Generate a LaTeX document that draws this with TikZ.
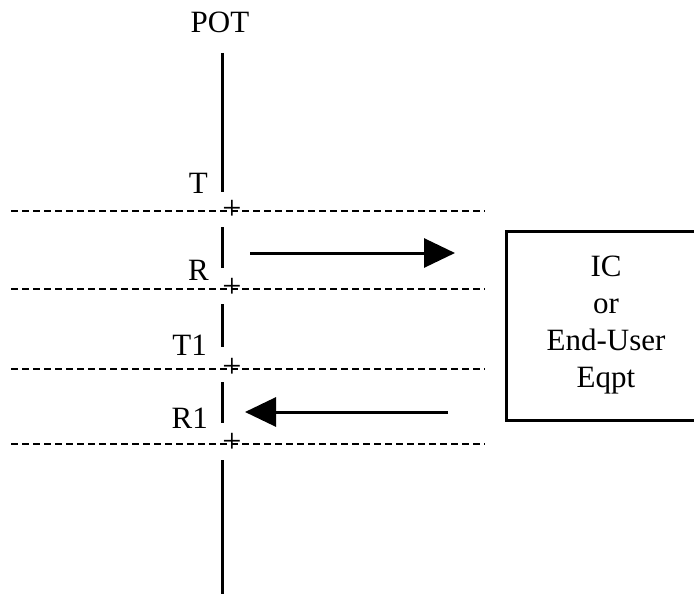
\documentclass[tikz,border=0pt]{standalone}
\usepackage{fontspec}
\setmainfont{Liberation Serif}
\usetikzlibrary{arrows.meta,positioning}
\tikzstyle{pointname}=[anchor=base east,inner sep=0pt]
\tikzstyle{wire}=[line width=3pt]
\tikzstyle{boundary}=[line width=1.5pt,dash pattern=on 7pt off 4pt]
\tikzstyle{plusmark}=[inner sep=0pt,font=\fontsize{34}{37}\selectfont]
\tikzstyle{flow}=[line width=3pt,-{Triangle[length=31pt,width=29pt]}]
\tikzstyle{equipment}=[draw,line width=3pt,minimum width=200pt,minimum height=189pt,align=center]
\tikzset{y=-1pt}
\tikzset{x=1pt}

\begin{document}
\begin{tikzpicture}[font=\fontsize{31}{37}\selectfont]
  \useasboundingbox (0,0) rectangle (694,594);
  \draw (220,33) node[anchor=base,inner sep=0pt] (POT) {POT};

  %% the line, cut at each point
  \coordinate (S1a) at (222,53);
  \coordinate (S1b) at (222,192);
  \coordinate (S2a) at (222,227);
  \coordinate (S2b) at (222,268);
  \coordinate (S3a) at (222,304);
  \coordinate (S3b) at (222,347);
  \coordinate (S4a) at (222,382);
  \coordinate (S4b) at (222,423);
  \coordinate (S5a) at (222,460);
  \coordinate (S5b) at (222,594);
  \draw[wire] (S1a) -- (S1b);
  \draw[wire] (S2a) -- (S2b);
  \draw[wire] (S3a) -- (S3b);
  \draw[wire] (S4a) -- (S4b);
  \draw[wire] (S5a) -- (S5b);

  %% boundaries
  \coordinate (D1l) at (11,211);
  \coordinate (D1r) at (485,211);
  \coordinate (D2l) at (11,289);
  \coordinate (D2r) at (485,289);
  \coordinate (D3l) at (11,369);
  \coordinate (D3r) at (485,369);
  \coordinate (D4l) at (11,444);
  \coordinate (D4r) at (485,444);
  \draw[boundary] (D1l) -- (D1r);
  \draw[boundary] (D2l) -- (D2r);
  \draw[boundary] (D3l) -- (D3r);
  \draw[boundary] (D4l) -- (D4r);
  \draw (232,210) node[plusmark] (X1) {+};
  \draw (232,288) node[plusmark] (X2) {+};
  \draw (232,368) node[plusmark] (X3) {+};
  \draw (232,443) node[plusmark] (X4) {+};

  \draw (208,193) node[pointname] (T) {T};
  \draw (209,280) node[pointname] (R) {R};
  \draw (207,355) node[pointname] (T1) {T1};
  \draw (208,428) node[pointname] (R1) {R1};

  %% equipment and flows
  \draw (606,325.5) node[equipment] (eqpt) {IC\\or\\End-User\\Eqpt};
  \coordinate (A1a) at (250,253);
  \coordinate (A1b) at (455,253);
  \coordinate (A2a) at (448,412);
  \coordinate (A2b) at (245,412);
  \draw[flow] (A1a) -- (A1b);
  \draw[flow] (A2a) -- (A2b);
\end{tikzpicture}
\end{document}
